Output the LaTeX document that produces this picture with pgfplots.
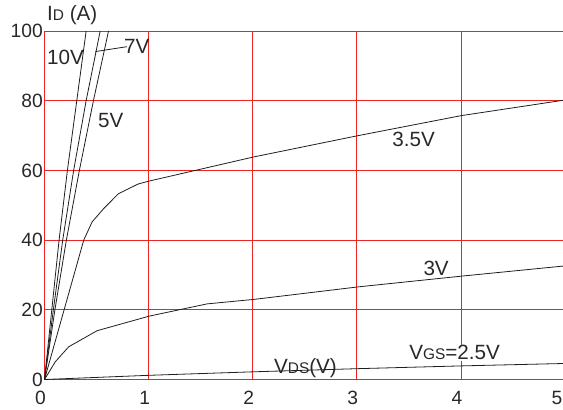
\documentclass[border=0pt]{standalone}
\usepackage{fontspec}
\setmainfont{Liberation Sans}
\usepackage{pgfplots}
\pgfplotsset{compat=1.18}
\definecolor{gridred}{RGB}{235,35,35}
\definecolor{curve}{RGB}{30,30,30}
\definecolor{txt}{RGB}{40,40,40}
\newcommand{\lab}{\fontsize{20.7}{24}\selectfont}
\newcommand{\sub}[1]{{\fontsize{15.5}{18}\selectfont #1}}

\begin{document}
\begin{tikzpicture}
\begin{axis}[
  scale only axis, width=520.5bp, height=348.5bp,
  xmin=0, xmax=5, ymin=0, ymax=100,
  xtick={0,1,2,3,4,5}, ytick={0,20,40,60,80,100},
  xticklabels={0,1,2,3,4,{\kern-4bp 5\kern4bp}},
  grid=major, major grid style={gridred, line width=0.75bp},
  axis line style={gridred, line width=0.75bp},
  major tick length=0pt,
  tick style={draw=none},
  /pgf/number format/assume math mode=true,
  tick label style={font=\fontsize{19.3}{22}\selectfont, text=txt},
  yticklabel style={inner xsep=1.5bp},
  xticklabel style={inner ysep=1.5bp, yshift=-10bp, xshift=-4bp},
  clip=false,
]
% VGS = 10V
\addplot[curve, line width=0.8bp, mark=none] coordinates {(0,0) (0.07,20) (0.14,40) (0.22,60) (0.31,80) (0.40,100)};
% VGS = 7V
\addplot[curve, line width=0.8bp, mark=none] coordinates {(0,0) (0.085,20) (0.175,40) (0.28,60) (0.40,80) (0.535,100)};
% VGS = 5V
\addplot[curve, line width=0.8bp, mark=none] coordinates {(0,0) (0.10,20) (0.21,40) (0.335,60) (0.47,80) (0.615,100)};
% VGS = 3.5V
\addplot[curve, line width=0.8bp, mark=none] coordinates {(0,0) (0.377,40) (0.457,45.2) (0.57,49.1) (0.71,53.3) (0.9,56.1) (1.0,56.9) (2,63.8) (3,69.9) (4,75.7) (5,80.2)};
% VGS = 3V
\addplot[curve, line width=0.8bp, mark=none] coordinates {(0,0) (0.104,5.1) (0.233,9.4) (0.505,14.0) (1.008,18.2) (1.563,21.7) (2.017,23.0) (3.02,26.6) (4.02,29.7) (5,32.6)};
% VGS = 2.5V
\addplot[curve, line width=0.8bp, mark=none] coordinates {(0,0) (1,1.2) (2,2.2) (3,3.1) (4,3.9) (5,4.6)};

\draw[curve, line width=0.8bp] (axis cs:0.489,94.1) -- (axis cs:0.793,95.5);

\node[anchor=base west, inner sep=0, font=\lab, text=txt] at (axis cs:0.024,102.9) {I\sub{D} (A)};
\node[anchor=base west, inner sep=0, font=\lab, text=txt] at (axis cs:0.024,90.4) {10V};
\node[anchor=base west, inner sep=0, font=\lab, text=txt] at (axis cs:0.764,93.6) {7V};
\node[anchor=base west, inner sep=0, font=\lab, text=txt] at (axis cs:0.514,72.2) {5V};
\node[anchor=base west, inner sep=0, font=\lab, text=txt] at (axis cs:3.341,66.8) {3.5V};
\node[anchor=base west, inner sep=0, font=\lab, text=txt] at (axis cs:3.639,29.9) {3V};
\node[anchor=base west, inner sep=0, font=\lab, text=txt] at (axis cs:2.204,1.78) {V\sub{DS}(V)};
\node[anchor=base west, inner xsep=0, inner ysep=1bp, fill=white, font=\lab, text=txt] at (axis cs:3.502,5.6) {V\sub{GS}=2.5V};

\coordinate (O) at (rel axis cs:0,0);
\end{axis}
\pgfresetboundingbox
\useasboundingbox (O) ++(-44.5bp,-30.5bp) rectangle ++(563bp,410bp);
\end{tikzpicture}
\end{document}
